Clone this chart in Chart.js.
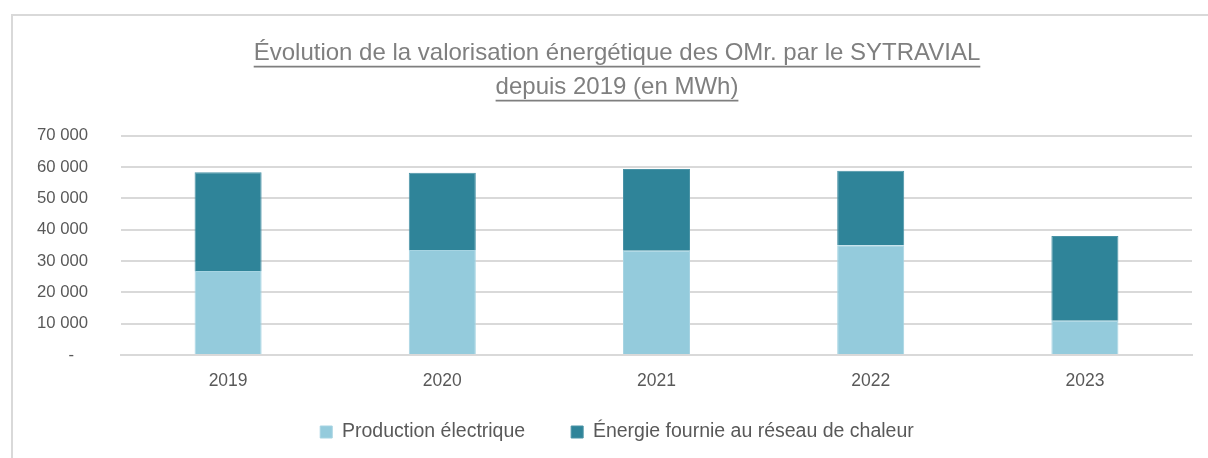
<!DOCTYPE html>
<html lang="fr">
  <head>
    <meta charset="UTF-8" />
    <title>Valorisation énergétique des OMr</title>
    <script src="https://cdn.jsdelivr.net/npm/chart.js@4.4.0/dist/chart.umd.min.js"></script>
    <style>
      html, body { margin: 0; padding: 0; background: #fff; overflow: hidden; width: 1208px; height: 458px; }
      #frame { position: absolute; left: 11px; top: 14px; width: 1300px; height: 600px; border: 2px solid #d9d9d9; }
      #myChart { position: absolute; left: 0; top: 0; }
    </style>
  </head>
  <body>
    <div id="frame"></div>
    <canvas id="myChart" width="1234" height="458"></canvas>
    <script>
      /*** data below ***/
      const years = ["2019", "2020", "2021", "2022", "2023"];
      const productionElectrique = [26800, 33500, 33300, 35000, 10900];
      const energieChaleur = [31500, 24700, 26100, 23800, 27100];
      const titleLines = [
        "Évolution de la valorisation énergétique des OMr. par le SYTRAVIAL",
        "depuis 2019 (en MWh)",
      ];
      /*** data above ***/

      const fontFamily = "'Liberation Sans Narrow', 'Arial Narrow', 'Liberation Sans', sans-serif";
      const grey = "#595959";
      const titleGrey = "#7f7f7f";

      // Chart.js titles can't be underlined, so draw the lines ourselves
      const underlineTitle = {
        id: "underlineTitle",
        afterDraw(chart) {
          const tb = chart.titleBlock;
          if (!tb) return;
          const opts = chart.options.plugins.title;
          const size = opts.font.size;
          const lh = size * opts.font.lineHeight;
          const ctx = chart.ctx;
          ctx.save();
          ctx.font = size + "px " + fontFamily;
          ctx.strokeStyle = opts.color;
          ctx.lineWidth = 1.6;
          const cx = (tb.left + tb.right) / 2;
          titleLines.forEach((line, i) => {
            const w = ctx.measureText(line).width;
            const y = tb.top + opts.padding.top + lh * i + lh / 2 + size * 0.54;
            ctx.beginPath();
            ctx.moveTo(cx - w / 2, y);
            ctx.lineTo(cx + w / 2, y);
            ctx.stroke();
          });
          ctx.restore();
        },
      };

      // keep the legend low without pushing the plot up
      const legendHeight = {
        id: "legendHeight",
        beforeInit(chart) {
          const fit = chart.legend.fit;
          chart.legend.fit = function () {
            fit.call(this);
            this.height = 81.75;
          };
        },
        // axis boxes are squeezed below, so don't clip their labels
        beforeDraw(chart) {
          Object.values(chart.scales).forEach((s) => {
            s._computeLabelArea = () => undefined;
          });
        },
      };

      const ctx = document.getElementById("myChart").getContext("2d");
      const chart = new Chart(ctx, {
        type: "bar",
        data: {
          labels: years,
          datasets: [
            {
              label: "Production électrique",
              data: productionElectrique,
              backgroundColor: "#94cbdc",
              borderColor: "#a6d4e2",
              borderWidth: 1,
            },
            {
              label: "Énergie fournie au réseau de chaleur",
              data: energieChaleur,
              backgroundColor: "#2f8499",
              borderColor: "#4a93a6",
              borderWidth: 1,
            },
          ],
        },
        options: {
          responsive: false,
          animation: false,
          layout: { padding: { left: 42, right: 42, top: 20, bottom: 0 } },
          datasets: {
            bar: { barPercentage: 1, categoryPercentage: 0.313 },
          },
          scales: {
            x: {
              stacked: true,
              grid: { display: false },
              border: { color: "#d9d9d9", width: 2 },
              ticks: { color: grey, font: { family: fontFamily, size: 17.5 }, padding: 8 },
              afterFit: (scale) => {
                scale.height = 21.25;
              },
            },
            y: {
              stacked: true,
              min: 0,
              max: 70000,
              grid: { color: "#d9d9d9", lineWidth: 2, drawTicks: false },
              border: { display: false },
              ticks: {
                stepSize: 10000,
                color: grey,
                padding: 33,
                font: { family: fontFamily, size: 16.7 },
                callback: (v) => (v === 0 ? "-   " : String(v).replace(/\B(?=(\d{3})+(?!\d))/g, " ")),
              },
              afterFit: (scale) => {
                scale.width = 79;
              },
            },
          },
          plugins: {
            title: {
              display: true,
              text: titleLines,
              color: titleGrey,
              font: { family: fontFamily, size: 24, weight: "normal", lineHeight: 34 / 24 },
              padding: { top: 16.7, bottom: 31 },
            },
            legend: {
              position: "bottom",
              labels: {
                color: grey,
                font: { family: fontFamily, size: 19.5 },
                boxWidth: 12,
                boxHeight: 12,
                padding: 46,
              },
            },
            tooltip: { enabled: false },
          },
        },
        plugins: [underlineTitle, legendHeight],
      });
    </script>
  </body>
</html>
